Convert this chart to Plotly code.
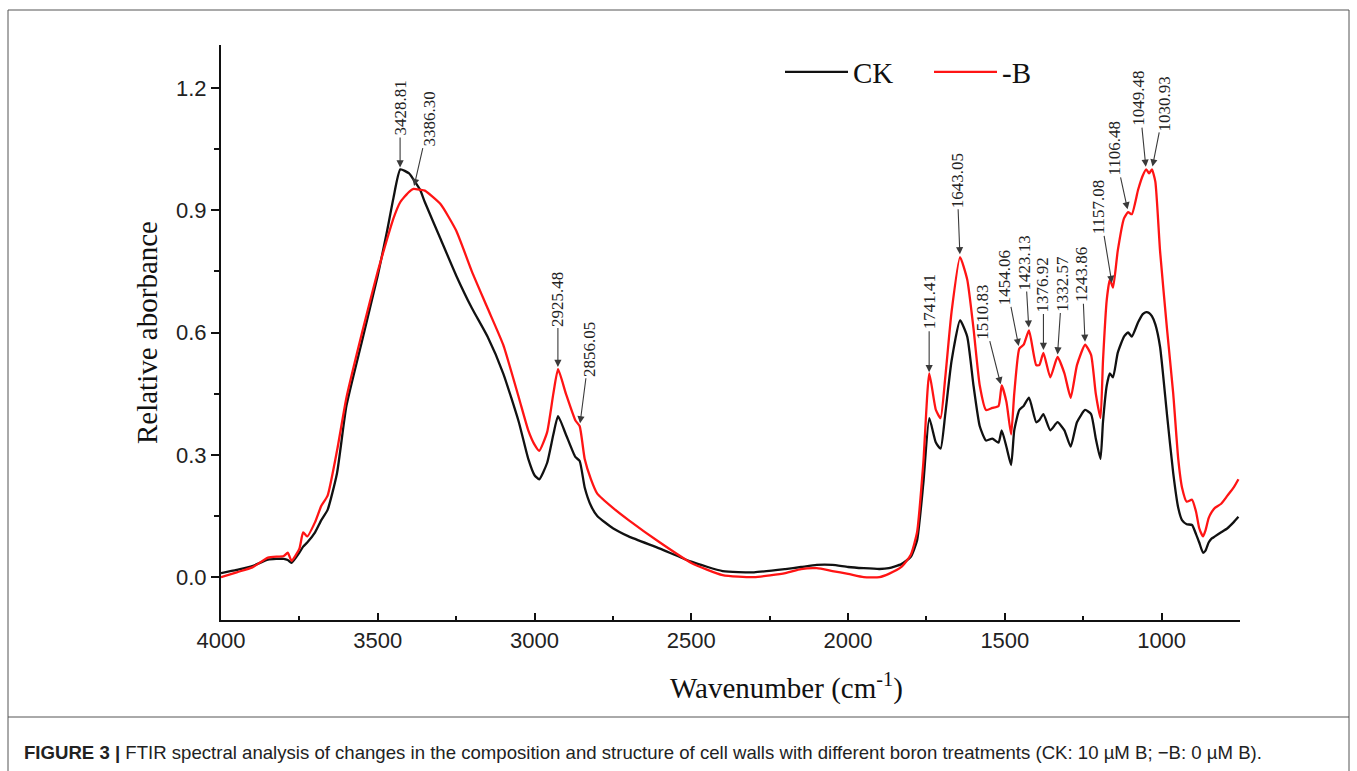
import numpy as np
import plotly.graph_objects as go

# ---------------- data ----------------
wavenumber = [4000, 3950, 3900, 3850, 3800, 3787, 3775, 3750, 3738, 3725, 3700, 3680, 3660, 3630, 3600,
              3550, 3500, 3470, 3450, 3428, 3400, 3386, 3365, 3350, 3300, 3250, 3200, 3150, 3100, 3050,
              3020, 3000, 2985, 2960, 2940, 2925, 2900, 2870, 2856, 2840, 2820, 2800, 2750, 2700, 2600,
              2500, 2400, 2300, 2200, 2150, 2100, 2050, 2000, 1950, 1900, 1870, 1830, 1800, 1780, 1760,
              1741, 1720, 1705, 1690, 1670, 1643, 1620, 1600, 1580, 1560, 1540, 1520, 1510, 1495, 1480,
              1470, 1454, 1440, 1423, 1400, 1390, 1377, 1355, 1332, 1310, 1290, 1270, 1244, 1225, 1210,
              1195, 1187, 1175, 1165, 1155, 1140, 1120, 1107, 1095, 1075, 1060, 1049, 1040, 1031, 1020,
              1005, 983, 963, 947, 935, 920, 903, 890, 880, 868, 860, 850, 840, 830, 810, 790, 770, 755]

ck = [0.010, 0.018, 0.027, 0.043, 0.045, 0.042, 0.035, 0.060, 0.075, 0.085, 0.110, 0.140, 0.165, 0.255, 0.420,
      0.580, 0.740, 0.850, 0.930, 1.000, 0.990, 0.975, 0.950, 0.920, 0.830, 0.740, 0.660, 0.590, 0.500, 0.380,
      0.290, 0.250, 0.240, 0.280, 0.350, 0.395, 0.350, 0.295, 0.285, 0.220, 0.175, 0.150, 0.120, 0.100, 0.070,
      0.038, 0.015, 0.012, 0.020, 0.025, 0.030, 0.030, 0.025, 0.022, 0.020, 0.022, 0.032, 0.050, 0.090, 0.230,
      0.390, 0.330, 0.315, 0.400, 0.530, 0.630, 0.590, 0.470, 0.370, 0.335, 0.340, 0.330, 0.360, 0.320, 0.275,
      0.360, 0.410, 0.420, 0.440, 0.380, 0.385, 0.400, 0.360, 0.380, 0.360, 0.320, 0.380, 0.410, 0.400, 0.340,
      0.290, 0.380, 0.470, 0.500, 0.490, 0.550, 0.590, 0.600, 0.590, 0.625, 0.645, 0.650, 0.648, 0.640, 0.620,
      0.565, 0.400, 0.255, 0.170, 0.140, 0.130, 0.128, 0.105, 0.085, 0.060, 0.065, 0.085, 0.095, 0.100, 0.110,
      0.120, 0.135, 0.148]

minus_b = [0.000, 0.012, 0.024, 0.048, 0.052, 0.060, 0.040, 0.070, 0.110, 0.100, 0.135, 0.175, 0.200, 0.310, 0.440,
           0.600, 0.750, 0.830, 0.880, 0.920, 0.945, 0.952, 0.950, 0.948, 0.915, 0.850, 0.750, 0.660, 0.570, 0.440,
           0.360, 0.325, 0.310, 0.355, 0.450, 0.510, 0.450, 0.385, 0.370, 0.290, 0.240, 0.205, 0.170, 0.140, 0.085,
           0.035, 0.005, 0.000, 0.010, 0.020, 0.022, 0.015, 0.008, 0.000, 0.000, 0.008, 0.025, 0.055, 0.110, 0.280,
           0.500, 0.410, 0.390, 0.490, 0.650, 0.785, 0.730, 0.610, 0.470, 0.410, 0.415, 0.420, 0.470, 0.430, 0.350,
           0.450, 0.560, 0.570, 0.605, 0.520, 0.520, 0.550, 0.490, 0.540, 0.500, 0.440, 0.520, 0.570, 0.545, 0.450,
           0.390, 0.530, 0.680, 0.730, 0.710, 0.800, 0.880, 0.895, 0.890, 0.950, 0.985, 1.000, 0.990, 1.000, 0.970,
           0.800, 0.610, 0.450, 0.290, 0.220, 0.185, 0.190, 0.160, 0.120, 0.100, 0.115, 0.145, 0.160, 0.170, 0.180,
           0.200, 0.220, 0.240]

series_names = ["CK", "-B"]
series_colors = ["#111111", "#ff1414"]

peak_labels = ["3428.81", "3386.30", "2925.48", "2856.05", "1741.41", "1643.05", "1510.83", "1454.06",
               "1423.13", "1376.92", "1332.57", "1243.86", "1157.08", "1106.48", "1049.48", "1030.93"]
peak_series = ["CK", "-B", "-B", "-B", "-B", "-B", "-B", "-B",
               "-B", "-B", "-B", "-B", "-B", "-B", "-B", "-B"]

x_ticks = [4000, 3500, 3000, 2500, 2000, 1500, 1000]
y_ticks = [0.0, 0.3, 0.6, 0.9, 1.2]

caption = ("<b>FIGURE 3 |</b> FTIR spectral analysis of changes in the composition and structure of cell walls "
           "with different boron treatments (CK: 10 \u00b5M B; \u2212B: 0 \u00b5M B).")

# ---------------- layout helpers (pixel geometry) ----------------
W, H = 1357, 771
L, R, T, B = 221, 1240, 45, 620


def px(xp):
    return (xp - L) / (R - L)


def py(yp):
    return (B - yp) / (B - T)


serif = "Liberation Serif, Times New Roman, serif"
sans = "Liberation Sans, Arial, sans-serif"

fig = go.Figure()
data_map = {"CK": ck, "-B": minus_b}
legend_ids = ["legend", "legend2"]
for name, color, lg in zip(series_names, series_colors, legend_ids):
    fig.add_trace(go.Scatter(
        x=wavenumber, y=data_map[name], mode="lines", name=name, legend=lg,
        line=dict(color=color, width=2.3, shape="spline", smoothing=0.5),
    ))

# arrow offsets (pixels) of each label relative to its peak
offsets = [(0, -62), (16, -70), (0, -71), (10, -77), (0, -73), (-3, -77), (-19, -75), (-14, -71),
           (-4, -68), (0, -68), (5, -74), (-3, -70), (-13, -79), (-14, -64), (-7, -71), (13, -66)]

wn_rev = np.array(wavenumber[::-1], dtype=float)
annotations = []
for lab, ser, (ax, ay) in zip(peak_labels, peak_series, offsets):
    xv = float(lab)
    yv = float(np.interp(xv, wn_rev, np.array(data_map[ser][::-1])))
    annotations.append(dict(
        x=xv, y=yv, xref="x", yref="y", text=lab, textangle=-90,
        showarrow=True, ax=ax, ay=ay, arrowhead=2, arrowsize=1.3, arrowwidth=1.1,
        arrowcolor="#3a3a3a", standoff=3, font=dict(family=serif, size=17, color="#222222"),
    ))

annotations.append(dict(
    x=px(786), y=py(686), xref="paper", yref="paper", showarrow=False,
    text="Wavenumber (cm<sup>-1</sup>)", font=dict(family=serif, size=29, color="#111111"),
    xanchor="center", yanchor="middle",
))
annotations.append(dict(
    x=px(22), y=py(752), xref="paper", yref="paper", showarrow=False, text=caption,
    font=dict(family=sans, size=18.6, color="#222222"), xanchor="left", yanchor="middle",
))

shapes = [
    dict(type="line", xref="paper", yref="paper", x0=px(8), x1=px(8), y0=py(10), y1=py(771),
         line=dict(color="#555555", width=1)),
    dict(type="line", xref="paper", yref="paper", x0=px(1349), x1=px(1349), y0=py(10), y1=py(771),
         line=dict(color="#555555", width=1)),
    dict(type="line", xref="paper", yref="paper", x0=px(8), x1=px(1349), y0=py(10), y1=py(10),
         line=dict(color="#555555", width=1)),
    dict(type="line", xref="paper", yref="paper", x0=px(8), x1=px(1349), y0=py(717), y1=py(717),
         line=dict(color="#555555", width=1)),
]

legend_style = dict(orientation="h", xanchor="left", yanchor="middle",
                    font=dict(family=serif, size=29, color="#111111"), bgcolor="rgba(0,0,0,0)",
                    itemwidth=63)

fig.update_layout(
    width=W, height=H,
    margin=dict(l=L, r=W - R, t=T, b=H - B, pad=0),
    paper_bgcolor="white", plot_bgcolor="white",
    showlegend=True,
    legend=dict(x=px(780), y=py(72), **legend_style),
    legend2=dict(x=px(929), y=py(72), **legend_style),
    annotations=annotations,
    shapes=shapes,
)

fig.update_xaxes(
    range=[4000, 750], tickvals=x_ticks, ticktext=[str(v) for v in x_ticks],
    showline=True, linecolor="#111111", linewidth=2, mirror=False,
    ticks="inside", ticklen=7, tickwidth=2, tickcolor="#111111",
    minor=dict(dtick=250, ticks="inside", ticklen=4, tickwidth=2, tickcolor="#111111", showgrid=False),
    showgrid=False, zeroline=False,
    tickfont=dict(family=sans, size=22, color="#222222"),
)
fig.update_yaxes(
    range=[-0.105, 1.305], tickvals=y_ticks, ticktext=["%.1f" % v for v in y_ticks],
    showline=True, linecolor="#111111", linewidth=2, mirror=False,
    ticks="outside", ticklen=8, tickwidth=2, tickcolor="#111111",
    minor=dict(dtick=0.15, ticks="outside", ticklen=5, tickwidth=2, tickcolor="#111111", showgrid=False),
    showgrid=False, zeroline=False,
    tickfont=dict(family=sans, size=22, color="#222222"),
    title=dict(text="Relative aborbance", font=dict(family=serif, size=29, color="#111111"), standoff=10),
)

fig.write_html("out.html", config={"displayModeBar": False},
               post_script="document.body.style.margin='0';document.body.style.overflow='hidden';")
